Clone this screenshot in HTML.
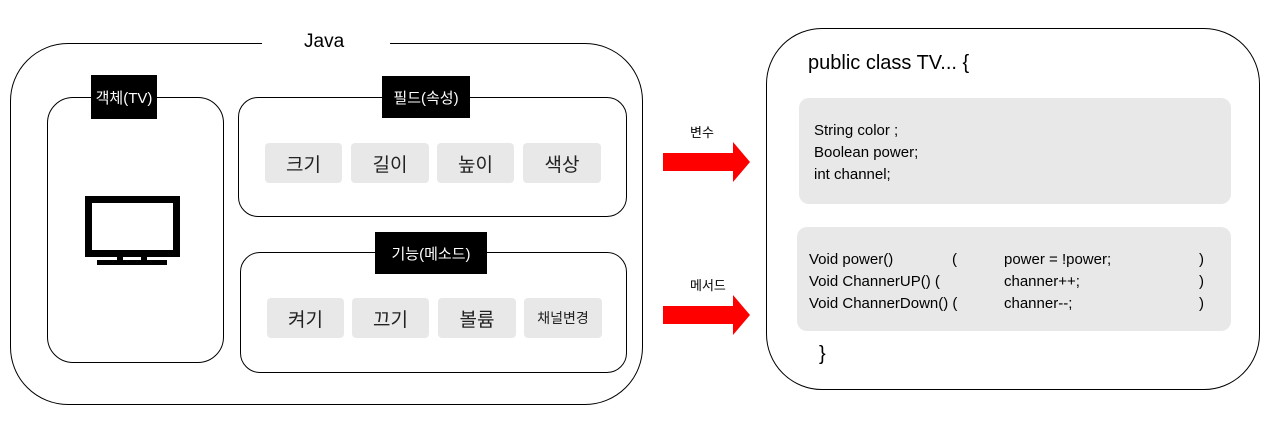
<!DOCTYPE html>
<html><head><meta charset="utf-8"><style>
body{margin:0;width:1280px;height:423px;background:#fff;position:relative;overflow:hidden;font-family:"Liberation Sans","Noto Sans CJK KR",sans-serif;}
.a{position:absolute;box-sizing:border-box;}
.rb{border:1.5px solid #000;}
.lab{background:#000;color:#fff;font-size:15px;display:flex;align-items:center;justify-content:center;}
.it{background:#e8e8e8;border-radius:4px;display:flex;align-items:center;justify-content:center;font-size:19px;color:#222;}
.t{position:absolute;white-space:pre;color:#000;}
</style></head><body>
<div class="a rb" style="left:10px;top:43px;width:633px;height:362px;border-radius:58px;"></div>
<div class="a" style="left:262px;top:38px;width:128px;height:12px;background:#fff;"></div>
<div class="t" style="left:304px;top:31px;font-size:19px;">Java</div>

<div class="a rb" style="left:47px;top:97px;width:177px;height:266px;border-radius:26px;"></div>
<div class="a lab" style="left:91px;top:75px;width:66px;height:44px;">객체(TV)</div>
<svg class="a" style="left:84px;top:195px" width="100" height="72">
<rect x="4.5" y="4.5" width="88" height="54" fill="none" stroke="#000" stroke-width="7"/>
<rect x="33" y="58" width="6" height="8" fill="#000"/><rect x="57" y="58" width="6" height="8" fill="#000"/>
<rect x="13" y="65" width="70" height="5" fill="#000"/></svg>

<div class="a rb" style="left:238px;top:97px;width:389px;height:120px;border-radius:20px;"></div>
<div class="a lab" style="left:382px;top:76px;width:88px;height:42px;">필드(속성)</div>
<div class="a it" style="left:265px;top:143px;width:77px;height:40px;">크기</div>
<div class="a it" style="left:351px;top:143px;width:78px;height:40px;">길이</div>
<div class="a it" style="left:437px;top:143px;width:77px;height:40px;">높이</div>
<div class="a it" style="left:523px;top:143px;width:78px;height:40px;">색상</div>

<div class="a rb" style="left:240px;top:252px;width:387px;height:121px;border-radius:20px;"></div>
<div class="a lab" style="left:375px;top:232px;width:112px;height:42px;">기능(메소드)</div>
<div class="a it" style="left:267px;top:298px;width:77px;height:40px;">켜기</div>
<div class="a it" style="left:352px;top:298px;width:77px;height:40px;">끄기</div>
<div class="a it" style="left:438px;top:298px;width:78px;height:40px;">볼륨</div>
<div class="a it" style="left:524px;top:298px;width:78px;height:40px;font-size:14px;">채널변경</div>

<div class="t" style="left:690px;top:122px;font-size:13px;">변수</div>
<div class="t" style="left:690px;top:275px;font-size:13px;">메서드</div>
<svg class="a" style="left:660px;top:140px" width="95" height="200">
<polygon points="3,13 73,13 73,2 90,22 73,42 73,31 3,31" fill="#f00"/>
<polygon points="3,166 73,166 73,155 90,175 73,195 73,184 3,184" fill="#f00"/>
</svg>

<div class="a rb" style="left:766px;top:28px;width:494px;height:362px;border-radius:56px;"></div>
<div class="t" style="left:808px;top:52px;font-size:20px;">public class TV... {</div>
<div class="a" style="left:799px;top:98px;width:432px;height:106px;background:#e8e8e8;border-radius:10px;"></div>
<div class="t" style="left:814px;top:120px;font-size:15px;line-height:22px;">String color ;
Boolean power;
int channel;</div>
<div class="a" style="left:797px;top:227px;width:434px;height:104px;background:#e8e8e8;border-radius:10px;"></div>
<div class="t" style="left:809px;top:249px;font-size:15px;line-height:22px;">Void power()
Void ChannerUP() (
Void ChannerDown() (</div>
<div class="t" style="left:952px;top:249px;font-size:15px;line-height:22px;">(</div>
<div class="t" style="left:1004px;top:249px;font-size:15px;line-height:22px;">power = !power;
channer++;
channer--;</div>
<div class="t" style="left:1199px;top:249px;font-size:15px;line-height:22px;">)
)
)</div>
<div class="t" style="left:819px;top:343px;font-size:20px;">}</div>
</body></html>
